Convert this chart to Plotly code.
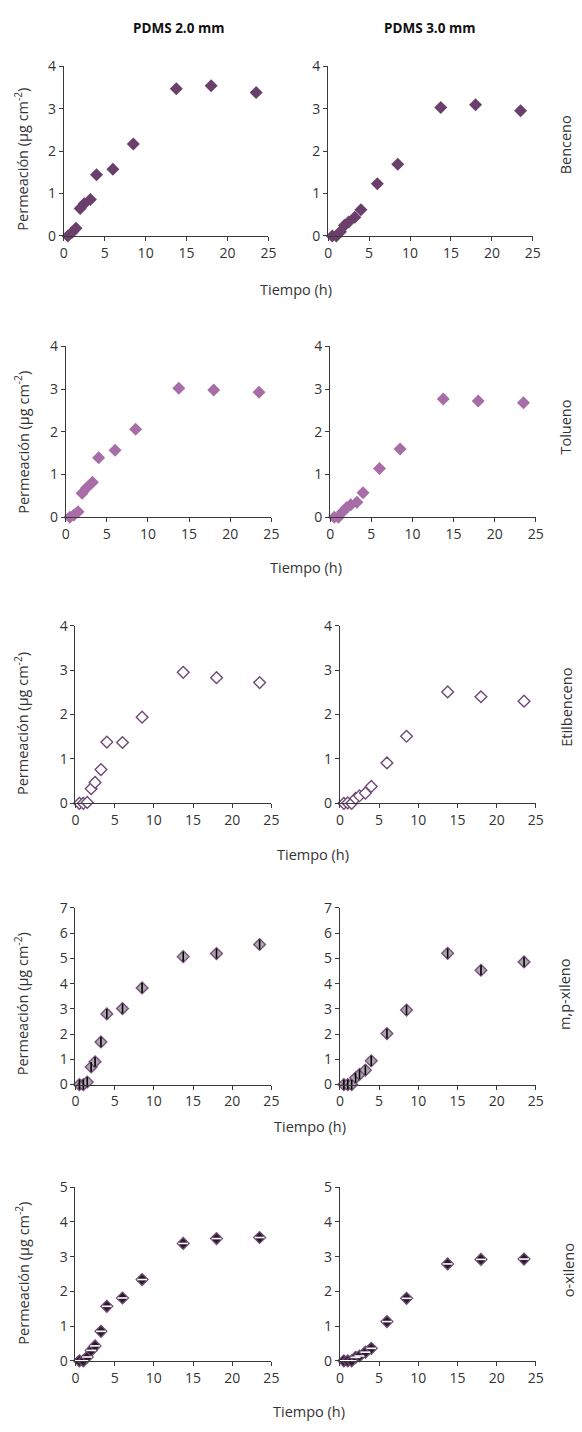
import plotly.graph_objects as go

# Sampling times (h)
tiempo = [0.5, 1.0, 1.5, 2.0, 2.5, 3.25, 4.0, 6.0, 8.5, 13.75, 18.0, 23.5]

# Cumulative permeation (ug cm-2) for each compound and membrane thickness
benceno_2mm = [0.0, 0.08, 0.18, 0.65, 0.76, 0.86, 1.44, 1.57, 2.17, 3.47, 3.54, 3.38]
benceno_3mm = [0.0, 0.0, 0.10, 0.25, 0.33, 0.44, 0.62, 1.23, 1.69, 3.03, 3.09, 2.95]
tolueno_2mm = [0.0, 0.05, 0.13, 0.56, 0.68, 0.82, 1.39, 1.57, 2.06, 3.02, 2.98, 2.93]
tolueno_3mm = [0.0, 0.0, 0.12, 0.22, 0.29, 0.35, 0.57, 1.14, 1.60, 2.77, 2.72, 2.68]
etilbenceno_2mm = [0.0, 0.0, 0.02, 0.33, 0.47, 0.76, 1.38, 1.37, 1.94, 2.95, 2.83, 2.72]
etilbenceno_3mm = [0.0, 0.01, 0.0, 0.11, 0.17, 0.23, 0.38, 0.91, 1.51, 2.51, 2.40, 2.30]
mpxileno_2mm = [0.0, 0.0, 0.10, 0.70, 0.90, 1.69, 2.80, 3.01, 3.83, 5.07, 5.19, 5.55]
mpxileno_3mm = [0.0, 0.0, 0.0, 0.27, 0.40, 0.57, 0.94, 2.02, 2.95, 5.20, 4.53, 4.86]
oxileno_2mm = [0.0, 0.0, 0.11, 0.30, 0.43, 0.85, 1.57, 1.81, 2.34, 3.38, 3.52, 3.55]
oxileno_3mm = [0.0, 0.0, 0.0, 0.10, 0.14, 0.25, 0.36, 1.13, 1.80, 2.79, 2.92, 2.93]

compuestos = ["Benceno", "Tolueno", "Etilbenceno", "m,p-xileno", "o-xileno"]
columnas = ["PDMS 2.0 mm", "PDMS 3.0 mm"]
y_max = [4, 4, 4, 7, 5]
x_ticks = [0, 5, 10, 15, 20, 25]

series = [
    (benceno_2mm, benceno_3mm),
    (tolueno_2mm, tolueno_3mm),
    (etilbenceno_2mm, etilbenceno_3mm),
    (mpxileno_2mm, mpxileno_3mm),
    (oxileno_2mm, oxileno_3mm),
]

W, H = 582, 1432
FONT = "'Open Sans', sans-serif"
TXT = "#333333"

# plot-area boxes in pixels: (x0, x1) per column, (ytop, ybottom) per row
cols_px = [
    [(61, 270), (331, 540)],
    [(63, 273), (333, 543)],
    [(73, 273), (343, 543)],
    [(73, 273), (343, 543)],
    [(73, 273), (343, 543)],
]
rows_px = [(57, 229), (341, 514), (624, 804), (910, 1089), (1193, 1369)]

# marker styling per compound
estilos = [
    dict(symbol="diamond", size=10, color="#6A3F6B", line=dict(width=0)),
    dict(symbol="diamond", size=10, color="#A86DA6", line=dict(width=0)),
    dict(symbol="diamond", size=9, color="#FFFFFF", line=dict(width=1.4, color="#6F4A77")),
    dict(symbol="diamond", size=9, color="#A9A9A9", line=dict(width=1.4, color="#7A4F80")),
    dict(symbol="diamond", size=9, color="#2B1B2B", line=dict(width=1.4, color="#6E4A74")),
]
# inner stroke drawn on top of the diamonds for the xylenes
inner = [None, None, None,
         dict(symbol="line-ns", size=7, line=dict(width=1.6, color="#000000")),
         dict(symbol="line-ew", size=7, line=dict(width=1.6, color="#FFFFFF"))]

fig = go.Figure()
layout = dict(
    width=W, height=H,
    margin=dict(l=0, r=0, t=0, b=0),
    paper_bgcolor="white", plot_bgcolor="white",
    showlegend=False,
    font=dict(family=FONT, size=13, color=TXT),
)

annotations = []
idx = 0
for r in range(5):
    ytop, ybot = rows_px[r]
    for c in range(2):
        idx += 1
        x0, x1 = cols_px[r][c]
        xa = "x" if idx == 1 else f"x{idx}"
        ya = "y" if idx == 1 else f"y{idx}"
        xkey = "xaxis" if idx == 1 else f"xaxis{idx}"
        ykey = "yaxis" if idx == 1 else f"yaxis{idx}"
        layout[xkey] = dict(
            domain=[x0 / W, x1 / W], anchor=ya, range=[0, 25],
            tickvals=x_ticks, showgrid=False, zeroline=False,
            showline=True, linecolor="#3a3a3a", linewidth=1,
            ticks="outside", ticklen=4, tickcolor="#3a3a3a",
            tickfont=dict(family=FONT, size=14, color=TXT),
        )
        layout[ykey] = dict(
            domain=[1 - ybot / H, 1 - ytop / H], anchor=xa,
            range=[0, y_max[r]], dtick=1, showgrid=False, zeroline=False,
            showline=True, linecolor="#3a3a3a", linewidth=1,
            ticks="outside", ticklen=4, tickcolor="#3a3a3a",
            tickfont=dict(family=FONT, size=14, color=TXT),
        )
        yvals = series[r][c]
        fig.add_trace(go.Scatter(
            x=tiempo, y=yvals, mode="markers", xaxis=xa, yaxis=ya,
            marker=estilos[r], cliponaxis=False, hoverinfo="x+y",
        ))
        if inner[r] is not None:
            fig.add_trace(go.Scatter(
                x=tiempo, y=yvals, mode="markers", xaxis=xa, yaxis=ya,
                marker=inner[r], cliponaxis=False, hoverinfo="skip",
            ))

# y-axis titles (left column)
ytitle_centers = [151, 438, 723, 1007, 1280]
for yc in ytitle_centers:
    annotations.append(dict(
        text="Permeación (µg cm<sup>-2</sup>)", textangle=-90,
        x=18 / W, y=1 - yc / H, xref="paper", yref="paper",
        xanchor="center", yanchor="middle", showarrow=False,
        font=dict(family=FONT, size=14.5, color=TXT),
    ))

# x-axis titles between the two columns
xtitle_pos = [(298, 283), (308, 565), (316, 856), (312, 1132), (311, 1420)]
for xc, yc in xtitle_pos:
    annotations.append(dict(
        text="Tiempo (h)", x=xc / W, y=1 - yc / H, xref="paper", yref="paper",
        xanchor="center", yanchor="middle", showarrow=False,
        font=dict(family=FONT, size=14.5, color=TXT),
    ))

# compound labels on the right
comp_pos = [(573, 137), (573, 423), (574, 707), (573, 998), (576, 1277)]
for name, (xc, yc) in zip(compuestos, comp_pos):
    annotations.append(dict(
        text=name, textangle=-90, x=xc / W, y=1 - yc / H,
        xref="paper", yref="paper", xanchor="center", yanchor="middle",
        showarrow=False, font=dict(family=FONT, size=14.5, color=TXT),
    ))

# column headers
for name, xc in zip(columnas, [178, 434]):
    annotations.append(dict(
        text=f"<b>{name}</b>", x=xc / W, y=1 - 18 / H,
        xref="paper", yref="paper", xanchor="center", yanchor="middle",
        showarrow=False, font=dict(family=FONT, size=13.5, color="#111111"),
    ))

layout["annotations"] = annotations
fig.update_layout(**layout)
# remove the default page margin so the figure sits flush in the window
fig.write_html("out.html",
               post_script="document.body.style.margin='0';"
                           "document.body.style.overflow='hidden';")
